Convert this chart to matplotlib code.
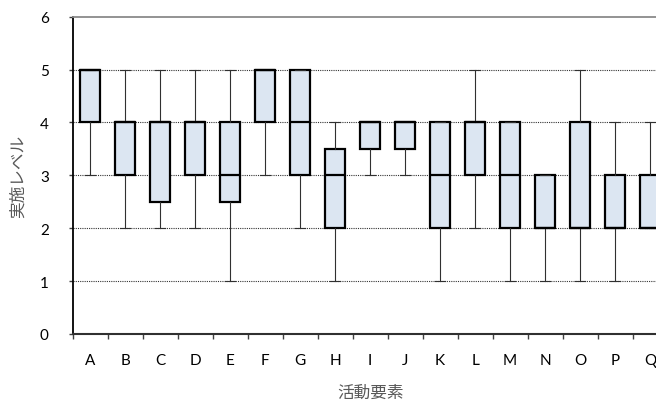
import matplotlib
matplotlib.use("Agg")
import matplotlib.pyplot as plt
from matplotlib.ticker import FixedLocator, NullFormatter
import numpy as np

plt.rcParams['font.family'] = ['Lato', 'Noto Sans CJK JP', 'DejaVu Sans']

# activity elements and box statistics (level 0-6)
labels = ["A", "B", "C", "D", "E", "F", "G", "H", "I", "J",
          "K", "L", "M", "N", "O", "P", "Q"]
low = [3, 2, 2, 2, 1, 3, 2, 1, 3, 3, 1, 2, 1, 1, 1, 1, 2]
q1 = [4, 3, 2.5, 3, 2.5, 4, 3, 2, 3.5, 3.5, 2, 3, 2, 2, 2, 2, 2]
med = [5, 4, 4, 4, 3, 5, 4, 3, 4, 4, 3, 4, 3, 2, 2, 2, 2]
q3 = [5, 4, 4, 4, 4, 5, 5, 3.5, 4, 4, 4, 4, 4, 3, 4, 3, 3]
high = [5, 5, 5, 5, 5, 5, 5, 4, 4, 4, 4, 5, 4, 3, 5, 4, 4]

stats = []
for i in range(len(labels)):
    stats.append({"label": labels[i], "whislo": low[i], "q1": q1[i],
                  "med": med[i], "q3": q3[i], "whishi": high[i], "fliers": []})

fig = plt.figure(figsize=(6.56, 4.06), dpi=100)
ax = fig.add_axes([0.1108, 0.1749, 0.907, 0.7815])

pos = np.arange(len(labels))
ax.bxp(stats, positions=pos, widths=0.56, patch_artist=True,
       showfliers=False, capwidths=0.28,
       boxprops=dict(facecolor="#DCE6F2", edgecolor="black", linewidth=1.6),
       medianprops=dict(color="black", linewidth=1.6),
       whiskerprops=dict(color="#303030", linewidth=0.8),
       capprops=dict(color="#303030", linewidth=0.8),
       zorder=3)

ax.set_xlim(-0.5, len(labels) - 0.5)
ax.set_ylim(0, 6)
ax.set_yticks(range(0, 7))

# category ticks between boxes, labels at box centres
ax.xaxis.set_major_locator(FixedLocator(np.arange(-0.5, len(labels), 1.0)))
ax.xaxis.set_major_formatter(NullFormatter())
ax.xaxis.set_minor_locator(FixedLocator(pos))
ax.set_xticklabels(labels, minor=True)
ax.tick_params(axis="x", which="major", direction="out", length=3.6, width=1.0, color="#404040")
ax.tick_params(axis="x", which="minor", length=0, pad=14, labelsize=11)
ax.tick_params(axis="y", direction="out", length=3.2, width=1.0, color="#404040",
               pad=14, labelsize=11)

for yv in range(1, 6):
    ax.axhline(yv, color="#333333", linestyle=(0, (1, 1)), linewidth=0.8, zorder=1)

ax.spines["right"].set_visible(False)
ax.spines["top"].set_color("#8a8a8a")
ax.spines["top"].set_linewidth(1.3)
ax.spines["left"].set_color("black")
ax.spines["left"].set_linewidth(1.3)
ax.spines["bottom"].set_color("#303030")
ax.spines["bottom"].set_linewidth(1.5)

ax.set_xlabel("活動要素", fontsize=12, color="#595959", labelpad=12)
ax.set_ylabel("実施レベル", fontsize=12, color="#595959", labelpad=10)

fig.savefig("out.png", dpi=100)
